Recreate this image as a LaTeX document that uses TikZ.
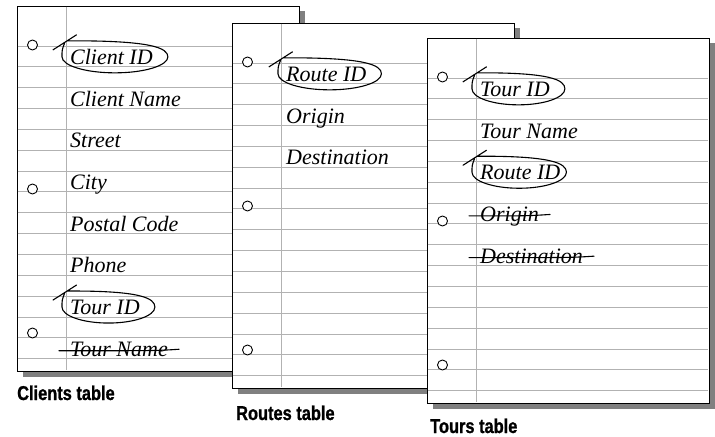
\documentclass[tikz,border=0pt]{standalone}
\usepackage{fontspec}
\setmainfont{Liberation Serif}
\newfontfamily\capfont[FakeStretch=0.82,FakeBold=1]{Liberation Sans}
\usepackage{tikz}
\usetikzlibrary{positioning,calc,shadows}

\definecolor{rulegray}{RGB}{178,178,178}
\definecolor{shadegray}{RGB}{128,128,128}

\tikzset{
  sheet/.style={draw, line width=1bp, fill=white, anchor=north west,
    minimum width=282bp, minimum height=365bp, inner sep=0pt,
    drop shadow={opacity=1, fill=shadegray, shadow xshift=5bp, shadow yshift=-5bp}},
  ruled/.style={rulegray, line width=0.9bp},
  hole/.style={draw, fill=white, line width=0.9bp},
  field/.style={anchor=base west, inner sep=0pt,
    font=\fontsize{22bp}{26bp}\selectfont\itshape},
  tablename/.style={anchor=base west, inner sep=0pt,
    font=\capfont\bfseries\fontsize{20bp}{24bp}\selectfont},
  pen/.style={line width=1.1bp, line cap=round, line join=round}
}

% key field: pen loop round it, ending in a tick
\newcommand\ringfield[2][15]{%
  \draw[pen] let \p1=(#2.base west), \p2=(#2.base east),
      \p3=({\x1-8bp},{\y1+23.5bp}), \p4=({\x2+#1bp},{\y1-8.5bp}),
      \p5=({0.5*\x3+0.5*\x4},{\y1+7.5bp}) in
    ({\x3+5bp},\y3)
      .. controls ({0.3*\x5+0.7*\x4},{\y3+0.5bp}) and (\x4,{0.448*\y5+0.552*\y3}) .. (\x4,\y5)
      .. controls (\x4,{0.448*\y5+0.552*\y4}) and ({0.448*\x5+0.552*\x4},\y4) .. (\x5,\y4)
      .. controls ({0.448*\x5+0.552*\x3},\y4) and (\x3,{0.448*\y5+0.552*\y4}) .. (\x3,\y5)
      .. controls (\x3,{\y3-9bp}) .. ({\x3+2.5bp},{\y3-2.5bp})
    ({\x3-9bp},{\y3-9bp}) -- ({\x3+14.5bp},{\y3+6bp});
}
% dropped field: struck out
\newcommand\strikefield[1]{%
  \draw[pen] ($(#1.base west)+(-11,-5.5)$) .. controls ($(#1.base east)+(-12,-5.5)$)
    .. ($(#1.base east)+(11,-7)$);
}

\begin{document}
\begin{tikzpicture}[x=1bp,y=-1bp]
\useasboundingbox (0,0) rectangle (715,437);

\foreach \n/\sx/\sy in {clients/17/6, routes/232/23, tours/427/38}{
  \node[sheet] (\n) at (\sx,\sy) {};
  \foreach \k in {0,...,15}
    \draw[ruled] ($(\n.north west)+(0.6,40+20.85*\k)$) -- ++(280.8,0);
  \draw[ruled] ($(\n.north west)+(49,0.6)$) -- ++(0,363.8);
  \foreach \h in {39,183,327}
    \draw[hole] ($(\n.north west)+(15.5,\h)$) circle [radius=5];
}

% Clients
\node[field] (cid) at ($(clients.north west)+(53,58.35)$) {Client ID};
\node[field, below=41.7bp of cid.base west, anchor=base west] (cname) {Client Name};
\node[field, below=41.7bp of cname.base west, anchor=base west] (street) {Street};
\node[field, below=41.7bp of street.base west, anchor=base west] (city) {City};
\node[field, below=41.7bp of city.base west, anchor=base west] (postal) {Postal Code};
\node[field, below=41.7bp of postal.base west, anchor=base west] (phone) {Phone};
\node[field, below=41.7bp of phone.base west, anchor=base west] (ctid) {Tour ID};
\node[field, below=41.7bp of ctid.base west, anchor=base west] (ctname) {Tour Name};
\ringfield{cid}
\ringfield{ctid}
\strikefield{ctname}

% Routes
\node[field] (rid) at ($(routes.north west)+(54,58.35)$) {Route ID};
\node[field, below=41.7bp of rid.base west, anchor=base west] (origin) {Origin};
\node[field, below=41.7bp of origin.base west, anchor=base west] (dest) {Destination};
\ringfield{rid}

% Tours
\node[field] (tid) at ($(tours.north west)+(53,58.35)$) {Tour ID};
\node[field, below=41.7bp of tid.base west, anchor=base west] (tname) {Tour Name};
\node[field, below=41.7bp of tname.base west, anchor=base west] (trid) {Route ID};
\node[field, below=41.7bp of trid.base west, anchor=base west] (torigin) {Origin};
\node[field, below=41.7bp of torigin.base west, anchor=base west] (tdest) {Destination};
\ringfield{tid}
\ringfield[6]{trid}
\strikefield{torigin}
\strikefield{tdest}

\node[tablename] (ctitle) at (17,400) {Clients table};
\node[tablename] (rtitle) at (236,420) {Routes table};
\node[tablename] (ttitle) at (430,433) {Tours table};
\end{tikzpicture}
\end{document}
